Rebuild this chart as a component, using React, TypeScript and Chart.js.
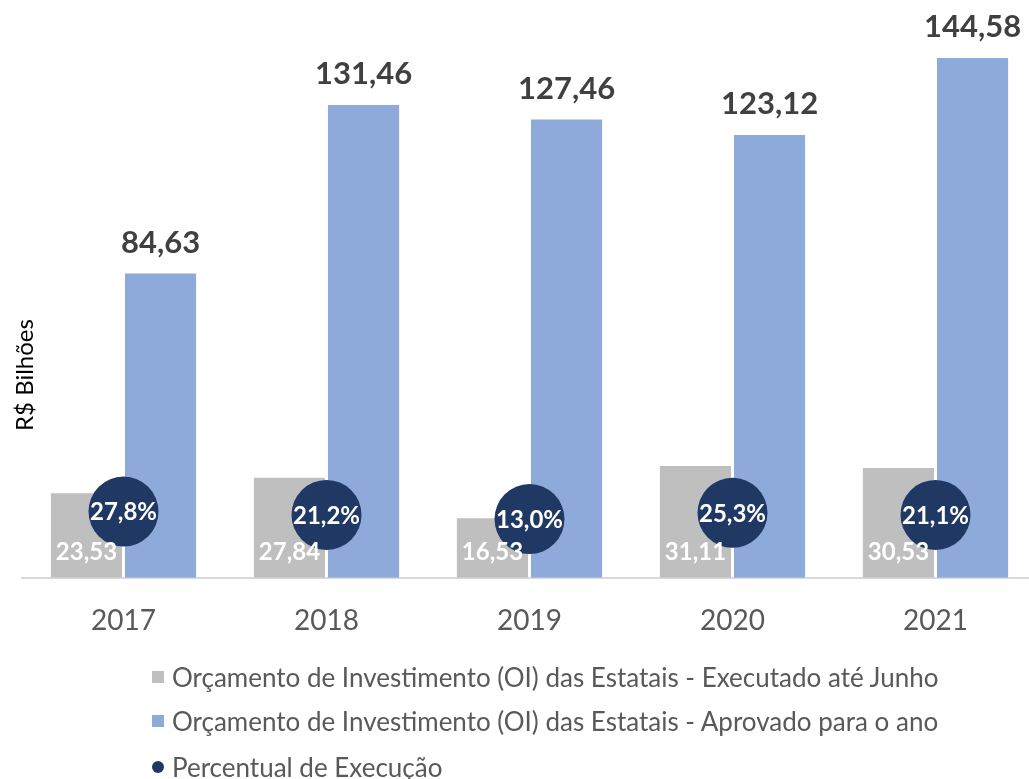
import { useEffect, useRef } from 'react';
import { Chart, registerables } from 'chart.js';

Chart.register(...registerables);

const years = ['2017', '2018', '2019', '2020', '2021'];
const executed = [23.53, 27.84, 16.53, 31.11, 30.53];
const approved = [84.63, 131.46, 127.46, 123.12, 144.58];
const percent = [27.8, 21.2, 13.0, 25.3, 21.1];
const seriesNames = [
  'Orçamento de Investimento (OI) das Estatais - Executado até Junho',
  'Orçamento de Investimento (OI) das Estatais - Aprovado para o ano',
  'Percentual de Execução',
];
const yTitle = 'R$ Bilhões';

const GREY = '#bfbfbf';
const BLUE = '#8eaadb';
const NAVY = '#203864';
const FONT = 'Lato, "Open Sans", sans-serif';

const fmt2 = (v: number) => v.toFixed(2).replace('.', ',');
const fmtPct = (v: number) => v.toFixed(1).replace('.', ',') + '%';

const labelPlugin = {
  id: 'customLabels',
  afterDatasetsDraw(chart: any) {
    const ctx = chart.ctx as CanvasRenderingContext2D;
    ctx.save();
    // y axis title
    ctx.save();
    ctx.translate(25, 375);
    ctx.rotate(-Math.PI / 2);
    ctx.font = `24px ${FONT}`;
    ctx.fillStyle = '#000000';
    ctx.textAlign = 'center';
    ctx.textBaseline = 'middle';
    ctx.fillText(yTitle, 0, 0);
    ctx.restore();

    const grey = chart.getDatasetMeta(0);
    const blue = chart.getDatasetMeta(1);
    const pts = chart.getDatasetMeta(2);
    ctx.textAlign = 'center';
    ctx.textBaseline = 'alphabetic';
    // approved values above bars
    ctx.font = `bold 31px ${FONT}`;
    ctx.fillStyle = '#404040';
    blue.data.forEach((el: any, i: number) => {
      ctx.fillText(fmt2(approved[i]), el.x, el.y - 21);
    });
    // executed values inside base of grey bars
    ctx.font = `bold 24px ${FONT}`;
    ctx.fillStyle = '#ffffff';
    grey.data.forEach((el: any, i: number) => {
      ctx.fillText(fmt2(executed[i]), el.x, el.base - 18);
    });
    // percentages in circles
    ctx.textBaseline = 'middle';
    ctx.font = `bold 24px ${FONT}`;
    pts.data.forEach((el: any, i: number) => {
      ctx.fillText(fmtPct(percent[i]), el.x, el.y + 1);
    });
    ctx.restore();
  },
};

export default function App() {
  const ref = useRef<HTMLCanvasElement | null>(null);

  useEffect(() => {
    if (!ref.current) return;
    const chart = new Chart(ref.current, {
      type: 'bar',
      data: {
        labels: years,
        datasets: [
          {
            type: 'bar',
            label: seriesNames[0],
            data: executed,
            backgroundColor: GREY,
            categoryPercentage: 0.73,
            barPercentage: 0.96,
            order: 1,
          },
          {
            type: 'bar',
            label: seriesNames[1],
            data: approved,
            backgroundColor: BLUE,
            categoryPercentage: 0.73,
            barPercentage: 0.96,
            order: 1,
          },
          {
            type: 'line',
            label: seriesNames[2],
            data: percent,
            yAxisID: 'y2',
            showLine: false,
            pointRadius: 35,
            pointHoverRadius: 35,
            pointStyle: 'circle',
            pointBackgroundColor: NAVY,
            pointBorderWidth: 0,
            borderColor: NAVY,
            backgroundColor: NAVY,
            order: 0,
          } as any,
        ],
      },
      options: {
        animation: false,
        responsive: false,
        maintainAspectRatio: false,
        layout: { autoPadding: false, padding: { left: 22, right: 8, top: 2.5, bottom: 115.6 } },
        plugins: {
          legend: { display: false },
          tooltip: { enabled: false },
        },
        scales: {
          x: {
            grid: { display: false, drawTicks: false, tickLength: 0 },
            border: { display: true, color: '#d9d9d9', width: 2 },
            ticks: {
              color: '#595959',
              font: { family: FONT, size: 28 },
              padding: 26,
            },
          },
          y: {
            display: false,
            min: 0,
            max: 160,
          },
          y2: {
            display: false,
            min: -103,
            max: 1033,
          },
        },
      },
      plugins: [labelPlugin],
    });
    return () => chart.destroy();
  }, []);

  const rowTops = [677, 721, 767];
  const legendFont: any = {
    fontFamily: FONT,
    fontSize: '26px',
    color: '#595959',
    whiteSpace: 'nowrap',
    lineHeight: '30px',
  };

  return (
    <div
      style={{
        position: 'absolute',
        left: 0,
        top: 0,
        width: '1029px',
        height: '779px',
        overflow: 'hidden',
        background: '#ffffff',
      }}
    >
      <canvas ref={ref} width={1045} height={779} style={{ display: 'block' }} />
      {seriesNames.map((name, i) => (
        <div
          key={name}
          style={{
            position: 'absolute',
            left: '152px',
            top: `${rowTops[i] - 15}px`,
            height: '30px',
            display: 'flex',
            alignItems: 'center',
            ...legendFont,
          }}
        >
          <span
            style={{
              display: 'inline-block',
              width: '12px',
              height: '12px',
              background: i === 0 ? GREY : i === 1 ? BLUE : NAVY,
              borderRadius: i === 2 ? '50%' : '0',
              marginRight: '8px',
            }}
          />
          <span>{name}</span>
        </div>
      ))}
    </div>
  );
}
